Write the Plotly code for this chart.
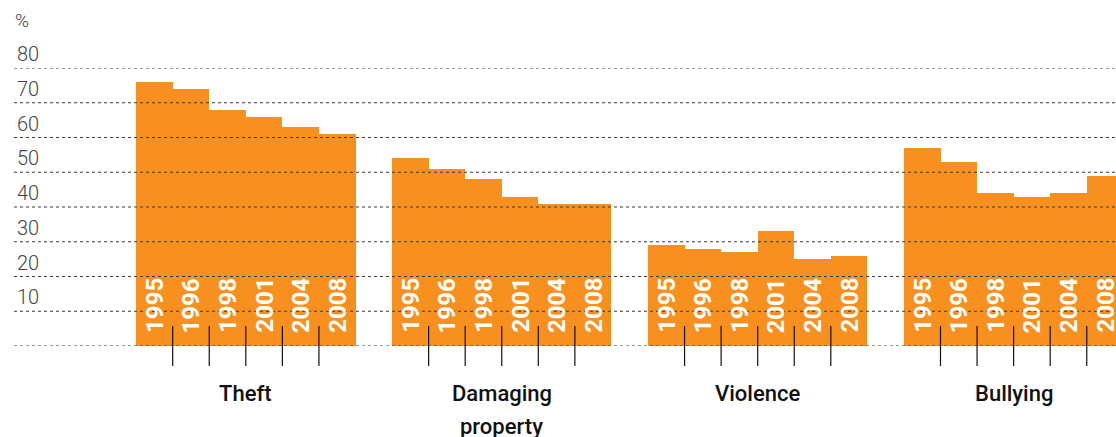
import plotly.graph_objects as go

categories = ["Theft", "Damaging\nproperty", "Violence", "Bullying"]
years = ["1995", "1996", "1998", "2001", "2004", "2008"]
theft = [76, 74, 68, 66, 63, 61]
damaging = [54, 51, 48, 43, 41, 41]
violence = [29, 28, 27, 33, 25, 26]
bullying = [57, 53, 44, 43, 44, 49]
series = [theft, damaging, violence, bullying]
y_ticks = [10, 20, 30, 40, 50, 60, 70, 80]

ORANGE = "#F7901E"
GROUP_STEP = len(years) + 1

xs, ys, texts = [], [], []
for g, vals in enumerate(series):
    for j, v in enumerate(vals):
        xs.append(g * GROUP_STEP + j)
        ys.append(v)
        texts.append(years[j])

fig = go.Figure()
fig.add_trace(go.Bar(x=xs, y=ys, width=1, marker=dict(color=ORANGE, line=dict(width=0)),
                     hoverinfo="skip", showlegend=False))

PLOT_H = 437 - 68 - 91
shapes = []
# dotted gridlines drawn above bars
for v in [0] + y_ticks:
    shapes.append(dict(type="line", xref="paper", x0=0, x1=1, yref="y", y0=v, y1=v,
                       line=dict(color="#3a3a3a", width=1.2, dash="dot"), layer="above"))
# separator ticks between bars
for g in range(len(series)):
    for j in range(1, len(years)):
        xv = g * GROUP_STEP + j - 0.5
        shapes.append(dict(type="line", xref="x", x0=xv, x1=xv, yref="paper",
                           y0=-20 / PLOT_H, y1=20 / PLOT_H,
                           line=dict(color="#111111", width=1.2), layer="above"))

annotations = []
for x, t in zip(xs, texts):
    annotations.append(dict(x=x, y=0, xref="x", yref="y", text=t, textangle=-90,
                            showarrow=False, xanchor="center", yanchor="bottom", yshift=11,
                            font=dict(family="Roboto", size=24, color="white", weight="bold")))
for g, cat in enumerate(categories):
    for k, line in enumerate(cat.split("\n")):
        annotations.append(dict(x=g * GROUP_STEP + (len(years) - 1) / 2, y=0, xref="x", yref="paper",
                                text=line, showarrow=False, xanchor="center", yanchor="middle",
                                yshift=-47 - 33 * k,
                                font=dict(family="Roboto", size=22, color="#111111", weight=500)))
annotations.append(dict(x=0, y=1, xref="paper", yref="paper", text="%", showarrow=False,
                        xanchor="left", yanchor="middle", yshift=48, xshift=-1,
                        font=dict(family="Roboto", size=19, color="#444444", weight=300)))

fig.update_layout(
    width=1116, height=437,
    margin=dict(l=14, r=0, t=68, b=91),
    paper_bgcolor="white", plot_bgcolor="white",
    bargap=0,
    shapes=shapes, annotations=annotations,
    xaxis=dict(range=[-3.84, 26.3], showgrid=False, zeroline=False, showticklabels=False,
               ticks="", showline=False, fixedrange=True),
    yaxis=dict(range=[0, 80], showgrid=False, zeroline=False, tickvals=y_ticks,
               ticktext=[str(v) for v in y_ticks], ticklabelposition="inside top",
               ticklabeloverflow="allow", ticks="", showline=False,
               tickfont=dict(family="Roboto", size=20, color="#444444", weight=300)),
)

fig.write_html("out.html")
